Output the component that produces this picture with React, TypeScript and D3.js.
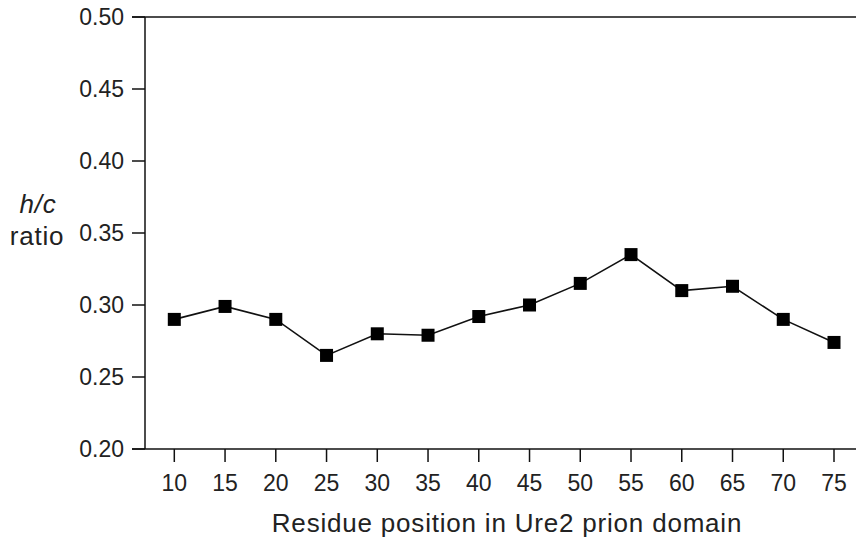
import React, { useEffect, useRef } from "react";
import * as d3 from "d3";

const positions = [10, 15, 20, 25, 30, 35, 40, 45, 50, 55, 60, 65, 70, 75];
const hcRatio = [
  0.290, 0.299, 0.290, 0.265, 0.280, 0.279, 0.292, 0.300, 0.315, 0.335, 0.310,
  0.313, 0.290, 0.274,
];
const yTicks = [0.2, 0.25, 0.3, 0.35, 0.4, 0.45, 0.5];

const WIDTH = 856;
const HEIGHT = 542;
const FONT = "'Liberation Sans', Arial, sans-serif";

const App: React.FC = () => {
  const svgRef = useRef<SVGSVGElement | null>(null);

  useEffect(() => {
    if (!svgRef.current) return;
    const svg = d3.select(svgRef.current);
    svg.selectAll("*").remove();

    const x = d3.scaleLinear().domain([10, 75]).range([174.3, 834]);
    const y = d3.scaleLinear().domain([0.2, 0.5]).range([449, 17]);
    const left = 145;
    const data = positions.map((p, i) => ({ p, v: hcRatio[i] }));

    // frame: left axis, bottom axis, top line
    svg.append("line")
      .attr("x1", left).attr("x2", left)
      .attr("y1", y(0.5)).attr("y2", y(0.2))
      .attr("stroke", "#111").attr("stroke-width", 1.5);
    svg.append("line")
      .attr("x1", 132).attr("x2", WIDTH)
      .attr("y1", y(0.2)).attr("y2", y(0.2))
      .attr("stroke", "#111").attr("stroke-width", 1.5);
    svg.append("line")
      .attr("x1", 132).attr("x2", WIDTH)
      .attr("y1", y(0.5)).attr("y2", y(0.5))
      .attr("stroke", "#111").attr("stroke-width", 1.5);

    // y ticks
    const yg = svg.append("g");
    yTicks.forEach((t) => {
      yg.append("line")
        .attr("x1", 132).attr("x2", left)
        .attr("y1", y(t)).attr("y2", y(t))
        .attr("stroke", "#111").attr("stroke-width", 1.5);
      yg.append("text")
        .attr("x", 124).attr("y", y(t)).attr("dy", "0.36em")
        .attr("text-anchor", "end")
        .attr("font-family", FONT).attr("font-size", 23)
        .attr("fill", "#222")
        .text(d3.format(".2f")(t));
    });

    // x ticks
    const xg = svg.append("g");
    positions.forEach((p) => {
      xg.append("line")
        .attr("x1", x(p)).attr("x2", x(p))
        .attr("y1", y(0.2)).attr("y2", y(0.2) + 13)
        .attr("stroke", "#111").attr("stroke-width", 1.5);
      xg.append("text")
        .attr("x", x(p)).attr("y", 491)
        .attr("text-anchor", "middle")
        .attr("font-family", FONT).attr("font-size", 23)
        .attr("fill", "#222")
        .text(p);
    });

    // line + square markers
    const line = d3.line<{ p: number; v: number }>()
      .x((d) => x(d.p))
      .y((d) => y(d.v));
    svg.append("path")
      .datum(data)
      .attr("d", line)
      .attr("fill", "none")
      .attr("stroke", "#111")
      .attr("stroke-width", 1.6);
    const s = 13;
    svg.selectAll(".pt")
      .data(data)
      .enter()
      .append("rect")
      .attr("class", "pt")
      .attr("x", (d) => x(d.p) - s / 2)
      .attr("y", (d) => y(d.v) - s / 2)
      .attr("width", s)
      .attr("height", s)
      .attr("fill", "#000");

    // axis titles
    svg.append("text")
      .attr("x", 507).attr("y", 532)
      .attr("text-anchor", "middle")
      .attr("font-family", FONT).attr("font-size", 26)
      .attr("letter-spacing", 0.8)
      .attr("fill", "#222")
      .text("Residue position in Ure2 prion domain");
    svg.append("text")
      .attr("x", 38).attr("y", 213)
      .attr("text-anchor", "middle")
      .attr("font-family", FONT).attr("font-size", 26)
      .attr("letter-spacing", 0.8)
      .attr("font-style", "italic")
      .attr("fill", "#222")
      .text("h/c");
    svg.append("text")
      .attr("x", 37).attr("y", 245)
      .attr("text-anchor", "middle")
      .attr("font-family", FONT).attr("font-size", 26)
      .attr("letter-spacing", 0.8)
      .attr("fill", "#222")
      .text("ratio");
  }, []);

  return (
    <div style={{ position: "fixed", top: 0, left: 0, background: "#fff" }}>
      <svg ref={svgRef} width={WIDTH} height={HEIGHT} style={{ display: "block" }} />
    </div>
  );
};

export default App;
